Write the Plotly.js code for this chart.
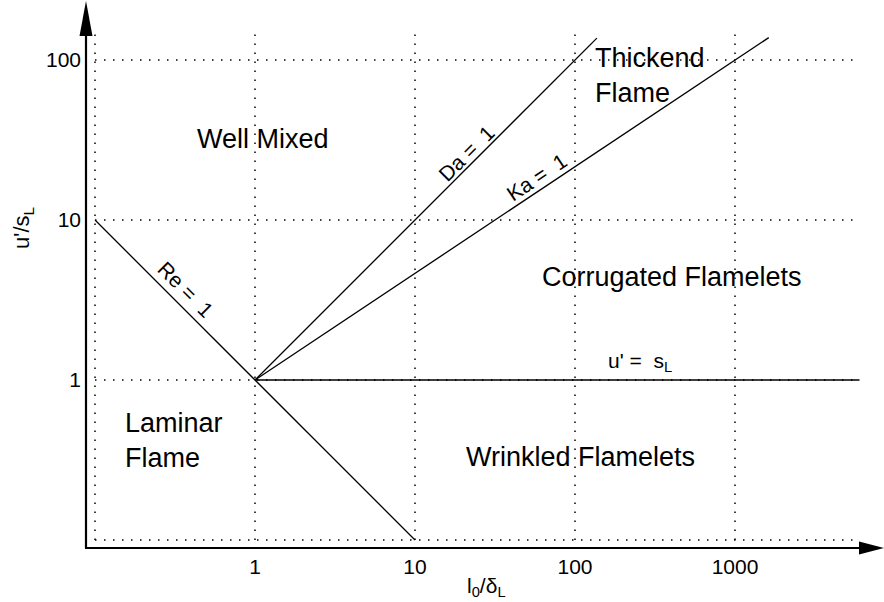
<!DOCTYPE html>
<html>
<head>
<meta charset="utf-8">
<script src="https://cdn.plot.ly/plotly-3.0.1.min.js"></script>
<style>html,body{margin:0;padding:0;background:#fff;}#chart{width:884px;height:602px;}</style>
</head>
<body>
<div id="chart"></div>
<script>
// ---- data ----
const xTickVals = [1, 10, 100, 1000];
const xTickText = ['1', '10', '100', '1000'];
const yTickVals = [1, 10, 100];
const yTickText = ['1', '10', '100'];
const gridXVals = [0.1, 1, 10, 100, 1000];
const gridYVals = [0.1, 1, 10, 100];
const gridXExtent = [0.1, 5800];
const gridYExtent = [0.1, 150];
const reX = [0.1, 10],  reY = [10, 0.1];     // Re = 1
const daX = [1, 137],   daY = [1, 137];      // Da = 1
const kaX = [1, 1625],  kaY = [1, 138];      // Ka = 1
const slX = [1, 6000],  slY = [1, 1];        // u' = sL

// ---- layout geometry ----
const W = 884, H = 602;
const M = {l: 86, r: 1, t: 0, b: 54};
const PW = W - M.l - M.r, PH = H - M.t - M.b;
const px = x => (x - M.l) / PW;
const py = y => (M.t + PH - y) / PH;
const FONT = 'Liberation Sans, Arial, Helvetica, sans-serif';

// gridlines
const gx = [], gy = [];
gridXVals.forEach(v => { gx.push(v, v, null); gy.push(gridYExtent[0], gridYExtent[1], null); });
gridYVals.forEach(v => { gx.push(gridXExtent[0], gridXExtent[1], null); gy.push(v, v, null); });

const solid = {color: '#000', width: 1.3};
const traces = [
  {x: gx, y: gy, mode: 'lines', line: {color: '#000', width: 1.5, dash: '1.5px,7.5px'}, hoverinfo: 'skip', connectgaps: false},
  {x: reX, y: reY, mode: 'lines', line: solid},
  {x: daX, y: daY, mode: 'lines', line: solid},
  {x: kaX, y: kaY, mode: 'lines', line: solid},
  {x: slX, y: slY, mode: 'lines', line: solid}
];

function lab(text, xpx, ypx, size, extra) {
  return Object.assign({
    text: text, xref: 'x', yref: 'y',
    x: (xpx - 255) / 160, y: (380 - ypx) / 160,
    showarrow: false, font: {family: FONT, size: size, color: '#000'},
    xanchor: 'center', yanchor: 'middle'
  }, extra || {});
}

const annotations = [
  lab('Well Mixed', 263, 139, 27),
  lab('Corrugated Flamelets', 672, 277, 27),
  lab('Wrinkled Flamelets', 580, 457, 27),
  lab('Laminar<br>Flame', 123, 440, 27, {xanchor: 'left', align: 'left'}),
  lab('Thickend<br>Flame', 593, 75, 27, {xanchor: 'left', align: 'left'}),
  lab('Da =\u00a0 1', 466, 153, 21, {textangle: -45}),
  lab('Ka =\u00a0 1', 536, 177, 21, {textangle: -33.7}),
  lab('Re =\u00a0 1', 186, 289, 21, {textangle: 45}),
  lab("u' =\u00a0 s<sub>L</sub>", 640, 362, 21),
  {text: 'l<sub>0</sub>/δ<sub>L</sub>', xref: 'paper', yref: 'paper', x: px(486), y: py(587),
   showarrow: false, font: {family: FONT, size: 21, color: '#000'}, xanchor: 'center', yanchor: 'middle'},
  {text: "u'/s<sub>L</sub>", xref: 'paper', yref: 'paper', x: px(23), y: py(228), textangle: -90,
   showarrow: false, font: {family: FONT, size: 22, color: '#000'}, xanchor: 'center', yanchor: 'middle'}
];

const shapes = [
  // axis lines
  {type: 'line', xref: 'paper', yref: 'paper', x0: px(86), y0: py(548), x1: px(86), y1: py(30), line: {color: '#000', width: 2.2}},
  {type: 'line', xref: 'paper', yref: 'paper', x0: px(85), y0: py(548), x1: px(865), y1: py(548), line: {color: '#000', width: 2.2}},
  // arrow heads
  {type: 'path', xref: 'paper', yref: 'paper',
   path: `M ${px(79.5)} ${py(36)} L ${px(92.5)} ${py(36)} L ${px(86)} ${py(1)} Z`,
   fillcolor: '#000', line: {width: 0}},
  {type: 'path', xref: 'paper', yref: 'paper',
   path: `M ${px(859)} ${py(541.5)} L ${px(859)} ${py(554.5)} L ${px(884)} ${py(548)} Z`,
   fillcolor: '#000', line: {width: 0}}
];

const layout = {
  width: W, height: H,
  margin: M,
  paper_bgcolor: '#fff', plot_bgcolor: '#fff',
  showlegend: false,
  font: {family: FONT, size: 21, color: '#000'},
  xaxis: {type: 'log', range: [(86 - 255) / 160, (883 - 255) / 160], tickvals: xTickVals, ticktext: xTickText,
          showgrid: false, zeroline: false, showline: false, ticks: '', tickfont: {size: 21},
          ticklabelstandoff: 4, fixedrange: true},
  yaxis: {type: 'log', range: [(380 - 548) / 160, 380 / 160], tickvals: yTickVals, ticktext: yTickText,
          showgrid: false, zeroline: false, showline: false, ticks: '', tickfont: {size: 21},
          ticklabelstandoff: 4, fixedrange: true},
  shapes: shapes,
  annotations: annotations
};

Plotly.newPlot('chart', traces, layout, {displayModeBar: false, staticPlot: true});
</script>
</body>
</html>
